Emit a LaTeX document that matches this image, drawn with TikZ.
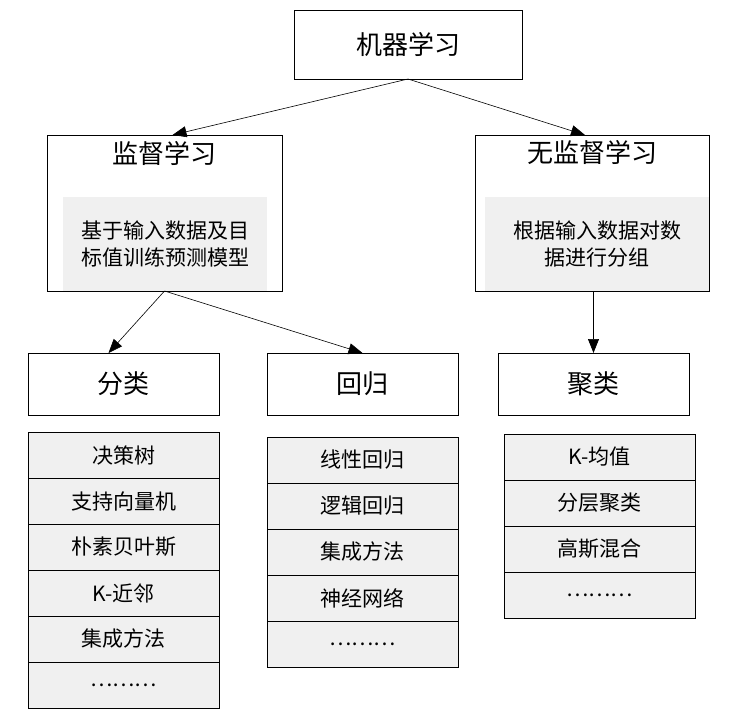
\documentclass[tikz,border=0pt]{standalone}
\usepackage{fontspec}
\setmainfont{Noto Sans CJK SC}
\usetikzlibrary{arrows.meta}
\definecolor{cellgray}{HTML}{F0F0F0}

\begin{document}
\begin{tikzpicture}[x=1pt, y=-1pt, >={Triangle[length=14pt,width=11pt]},
  level/.style={draw, line width=0.8pt, anchor=north west, inner sep=0pt, outer sep=0pt,
    minimum width=191pt, minimum height=62pt, font=\fontsize{26}{30}\selectfont},
  item/.style={level, fill=cellgray, minimum height=46pt, font=\fontsize{21}{24}\selectfont},
  group/.style={draw, line width=0.8pt, anchor=north west, inner sep=0pt, outer sep=0pt, minimum height=156pt},
  note/.style={fill=cellgray, anchor=north west, inner sep=0pt, align=center,
    minimum height=94pt, font=\fontsize{21}{27}\selectfont},
  grouptitle/.style={inner sep=0pt, font=\fontsize{26}{30}\selectfont},
  link/.style={->, line width=0.6pt}]
  \useasboundingbox (0,0) rectangle (737,717);
  % top
  \node[level, minimum width=228pt, minimum height=69pt] (ml) at (294,10) {机器学习};
  % supervised / unsupervised
  \node[note, minimum width=204pt] (supnote) at (63,197) {基于输入数据及目\\标值训练预测模型};
  \node[group, minimum width=235pt] (sup) at (47,135) {};
  \node[grouptitle] (suptitle) at ([yshift=-18pt]sup.north) {监督学习};
  \node[note, minimum width=224pt] (unsupnote) at (485,197) {根据输入数据对数\\据进行分组};
  \node[group, minimum width=234pt] (unsup) at (475,135) {};
  \node[grouptitle] (unsuptitle) at ([yshift=-18pt]unsup.north) {无监督学习};
  % tasks
  \node[level] (cls) at (28,353) {分类};
  \node[level] (reg) at (267,353) {回归};
  \node[level] (clu) at (498,353) {聚类};
  % methods
  \foreach \t [count=\i] in {决策树, 支持向量机, 朴素贝叶斯, K-近邻, 集成方法, ………}
    \node[item] (cls\i) at (28,{432+46*(\i-1)}) {\t};
  \foreach \t [count=\i] in {线性回归, 逻辑回归, 集成方法, 神经网络, ………}
    \node[item] (reg\i) at (267,{437+46*(\i-1)}) {\t};
  \foreach \t [count=\i] in {K-均值, 分层聚类, 高斯混合, ………}
    \node[item] (clu\i) at (504,{434+46*(\i-1)}) {\t};
  % arrows
  \draw[link] (ml.south) -- ([xshift=8pt]sup.north);
  \draw[link] (ml.south) -- ([xshift=-7pt]unsup.north);
  \draw[link] (sup.south) -- ([xshift=-15pt]cls.north);
  \draw[link] (sup.south) -- (reg.north);
  \draw[link] (clu.north |- unsup.south) -- (clu.north);
\end{tikzpicture}
\end{document}
